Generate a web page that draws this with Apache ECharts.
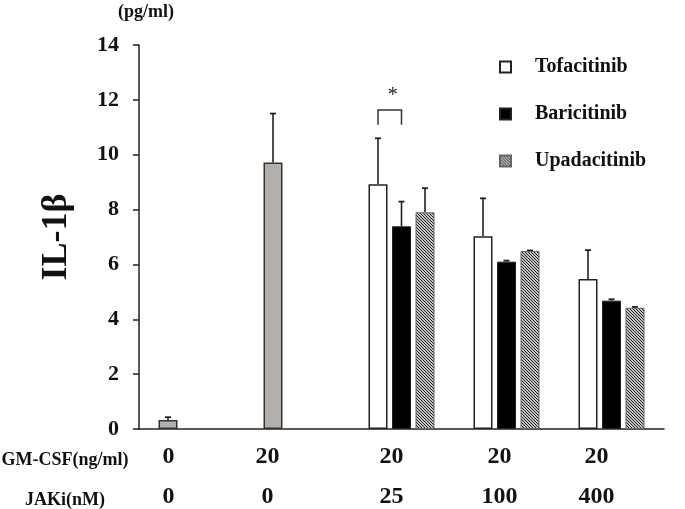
<!DOCTYPE html>
<html>
<head>
<meta charset="utf-8">
<script src="https://cdn.jsdelivr.net/npm/echarts@6/dist/echarts.min.js"></script>
<style>html,body{margin:0;padding:0;background:#fff}#c{width:685px;height:509px}</style>
</head>
<body>
<div id="c"></div>
<script>
// ---- data ----
const categories = ['GM0_J0', 'GM20_J0', 'GM20_J25', 'GM20_J100', 'GM20_J400'];
const gmcsfLabels = ['0', '20', '20', '20', '20'];
const jakiLabels = ['0', '0', '25', '100', '400'];
const seriesNames = ['Tofacitinib', 'Baricitinib', 'Upadacitinib'];
const tofaValues = [0.33, 9.72, 8.92, 7.03, 5.47];   // first two = GM-CSF controls (gray)
const tofaErrors = [0.10, 1.78, 1.68, 1.38, 1.05];
const bariValues = [null, null, 7.39, 6.10, 4.68];
const bariErrors = [null, null, 0.90, 0.04, 0.05];
const upaValues = [null, null, 7.90, 6.49, 4.42];
const upaErrors = [null, null, 0.88, 0.02, 0.03];
const controlIdx = [0, 1];
const yTicks = [0, 2, 4, 6, 8, 10, 12, 14];
const sigBracket = [[2, 11.09, 11.63, '*']]; // [category, bottom, top, mark]

// ---- styles ----
const FONT = "'Liberation Serif','Times New Roman',serif";
const BAR_W = 19;
const BAR_GAP_PX = 4.5;
const OFFS = [-(BAR_W + BAR_GAP_PX), 0, BAR_W + BAR_GAP_PX];
const labelShift = [23, 29, 10, 7, 15];

function hatch() {
  const c = document.createElement('canvas');
  c.width = 3; c.height = 3;
  const g = c.getContext('2d');
  g.fillStyle = '#c4c4c4';
  g.fillRect(0, 0, 3, 3);
  g.strokeStyle = '#222';
  g.lineWidth = 1;
  g.beginPath();
  g.moveTo(-1, -1); g.lineTo(4, 4);
  g.moveTo(-1, 2); g.lineTo(1, 4);
  g.moveTo(2, -1); g.lineTo(4, 1);
  g.stroke();
  return c;
}
const hatchPattern = { image: hatch(), repeat: 'repeat' };

const chart = echarts.init(document.getElementById('c'), null, { renderer: 'canvas' });

function errSeries(vals, errs, k) {
  const data = [];
  vals.forEach((v, i) => { if (v != null) data.push([i, v, errs[i]]); });
  return {
    type: 'custom',
    silent: true,
    z: 1,
    data: data,
    renderItem: function (params, api) {
      const cat = api.value(0), v = api.value(1), e = api.value(2);
      const p0 = api.coord([cat, v]);
      const p1 = api.coord([cat, v + e]);
      const x = p0[0] + OFFS[k];
      return {
        type: 'group',
        children: [
          { type: 'line', shape: { x1: x, y1: p0[1], x2: x, y2: p1[1] }, style: { stroke: '#222', lineWidth: 1.6 } },
          { type: 'line', shape: { x1: x - 3, y1: p1[1], x2: x + 3, y2: p1[1] }, style: { stroke: '#222', lineWidth: 1.8 } }
        ]
      };
    }
  };
}

const rich = {};
labelShift.forEach((s, i) => {
  rich['r' + i] = { fontFamily: FONT, fontSize: 24, fontWeight: 'bold', color: '#111', lineHeight: 40, padding: [0, 2 * s, 0, 0] };
});

const tofaData = tofaValues.map((v, i) => controlIdx.includes(i)
  ? { value: v, itemStyle: { color: '#b3afad', borderColor: '#333', borderWidth: 1.5 } }
  : v);

chart.setOption({
  animation: false,
  backgroundColor: '#fff',
  grid: { left: 139, right: 21, top: 45, bottom: 77, containLabel: false },
  legend: {
    orient: 'vertical',
    left: 494,
    top: 52,
    itemGap: 27,
    itemWidth: 11,
    itemHeight: 11,
    icon: 'rect',
    data: seriesNames,
    textStyle: { fontFamily: FONT, fontSize: 20, fontWeight: 'bold', color: '#111', padding: [0, 0, 0, 19] }
  },
  xAxis: {
    type: 'category',
    data: categories,
    boundaryGap: true,
    axisLine: { lineStyle: { color: '#222', width: 1.5 } },
    axisTick: { show: false },
    axisLabel: {
      interval: 0,
      margin: 8,
      formatter: function (val, idx) {
        return '{r' + idx + '|' + gmcsfLabels[idx] + '}\n{r' + idx + '|' + jakiLabels[idx] + '}';
      },
      rich: rich
    }
  },
  yAxis: {
    type: 'value',
    min: yTicks[0],
    max: yTicks[yTicks.length - 1],
    interval: 2,
    splitLine: { show: false },
    axisLine: { show: true, lineStyle: { color: '#222', width: 1.5 } },
    axisTick: { show: true, length: 6, lineStyle: { color: '#222', width: 1.5 } },
    axisLabel: { fontFamily: FONT, fontSize: 22, fontWeight: 'bold', color: '#111', margin: 20 },
    name: 'IL-1β',
    nameLocation: 'middle',
    nameRotate: 90,
    nameGap: 64,
    nameTextStyle: { fontFamily: FONT, fontSize: 36, fontWeight: 'bold', color: '#111' }
  },
  graphic: [
    { type: 'text', left: 118, top: 3, style: { text: '(pg/ml)', font: "bold 18px 'Liberation Serif', serif", fill: '#111' } },
    { type: 'text', x: 65, y: 460, style: { text: 'GM-CSF(ng/ml)', font: "bold 18px 'Liberation Serif', serif", fill: '#111', align: 'center', verticalAlign: 'middle' } },
    { type: 'text', x: 65, y: 500, style: { text: 'JAKi(nM)', font: "bold 18px 'Liberation Serif', serif", fill: '#111', align: 'center', verticalAlign: 'middle' } }
  ],
  series: [
    {
      name: seriesNames[0], type: 'bar', barWidth: BAR_W, barGap: (BAR_GAP_PX / BAR_W * 100).toFixed(1) + '%',
      data: tofaData,
      itemStyle: { color: '#ffffff', borderColor: '#222', borderWidth: 1.5 },
      z: 2
    },
    {
      name: seriesNames[1], type: 'bar', barWidth: BAR_W,
      data: bariValues.map(v => v == null ? '-' : v),
      itemStyle: { color: '#000000', borderColor: '#222', borderWidth: 1 },
      z: 2
    },
    {
      name: seriesNames[2], type: 'bar', barWidth: BAR_W,
      data: upaValues.map(v => v == null ? '-' : v),
      itemStyle: { color: hatchPattern, borderColor: '#666', borderWidth: 1 },
      z: 2
    },
    errSeries(tofaValues, tofaErrors, 0),
    errSeries(bariValues, bariErrors, 1),
    errSeries(upaValues, upaErrors, 2),
    {
      type: 'custom',
      silent: true,
      data: sigBracket,
      renderItem: function (params, api) {
        const cat = api.value(0);
        const pb = api.coord([cat, api.value(1)]);
        const pt = api.coord([cat, api.value(2)]);
        const x1 = pb[0] + OFFS[0], x2 = pb[0] + OFFS[1];
        return {
          type: 'group',
          children: [
            { type: 'polyline', shape: { points: [[x1, pb[1]], [x1, pt[1]], [x2, pt[1]], [x2, pb[1]]] }, style: { stroke: '#333', lineWidth: 1.5, fill: null } },
            { type: 'text', style: { text: '*', x: (x1 + x2) / 2 + 3, y: pt[1] - 4, align: 'center', verticalAlign: 'bottom', font: "20px 'Liberation Serif', serif", fill: '#222' } }
          ]
        };
      }
    }
  ]
});
</script>
</body>
</html>
